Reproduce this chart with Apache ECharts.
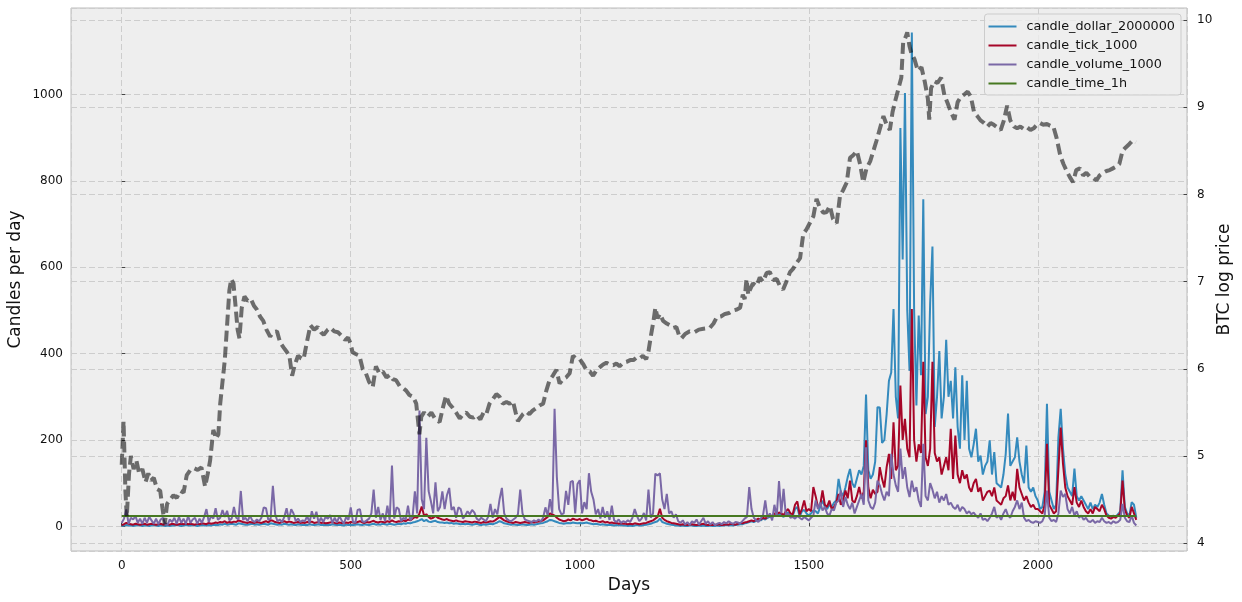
<!DOCTYPE html>
<html>
<head>
<meta charset="utf-8">
<title>Candles per day vs BTC log price</title>
<script src="https://cdn.jsdelivr.net/npm/echarts@6/dist/echarts.min.js"></script>
<style>
  html, body { margin: 0; padding: 0; background: #ffffff; }
  #chart { width: 1242px; height: 602px; }
</style>
</head>
<body>
<div id="chart"></div>
<script>
// candles per day, one value every 5 days (day 0, 5, 10, ... 2215)
const STEP = 5

const candleDollar = [
  1,2,3,2,2,1,2,3,2,1,2,2,1,2,3,2,1,2,2,1,
  2,1,2,2,3,2,1,2,3,2,2,3,2,1,2,3,2,2,3,2,
  3,4,3,5,4,6,4,5,6,5,4,7,6,5,4,4,5,6,4,5,
  4,5,6,5,4,7,6,5,4,5,4,6,5,4,5,4,3,5,4,3,
  4,3,5,4,3,4,5,3,4,3,4,3,5,4,3,4,3,2,4,3,
  4,3,4,5,4,3,5,4,3,5,6,4,5,4,6,5,4,6,5,4,
  5,6,5,7,6,8,7,9,10,12,14,17,12,15,11,10,12,13,10,9,
  9,8,9,7,8,6,7,6,5,6,5,6,5,4,5,6,4,3,5,4,
  5,6,5,7,9,12,10,7,6,5,4,5,4,3,4,5,4,3,4,5,
  4,5,6,7,8,10,12,15,14,12,10,8,7,6,7,8,7,9,8,7,
  8,7,8,9,7,6,5,6,5,4,5,4,3,4,3,2,3,2,3,2,
  2,1,2,1,2,3,2,2,3,4,5,6,8,10,12,18,10,8,6,5,
  4,3,2,2,1,2,1,1,2,2,1,1,2,1,2,1,1,2,1,1,
  2,1,2,2,3,2,3,2,3,4,5,5,7,8,10,12,10,13,15,14,
  18,16,20,22,21,25,24,28,26,22,30,32,25,24,40,45,22,35,38,30,
  25,30,37,35,30,45,60,45,40,50,45,55,60,110,80,70,90,114,133,100,
  90,110,130,120,140,305,130,110,120,150,276,275,193,200,260,337,356,503,300,250,
  922,618,1003,500,360,1143,500,280,488,350,757,260,300,517,648,230,300,406,250,300,
  432,300,337,250,368,230,180,350,200,337,180,160,190,226,150,164,120,140,150,199,
  120,172,100,95,90,120,168,261,140,150,160,206,150,120,100,187,90,80,90,70,
  60,40,45,80,284,80,60,40,50,206,272,180,120,90,80,70,134,70,60,70,
  60,50,40,55,40,50,45,55,75,50,30,25,22,25,22,28,35,130,45,30,
  25,56,50,20
]

const candleTick = [
  3,5,8,6,5,4,6,5,4,5,6,4,5,6,5,4,5,6,4,5,
  5,4,6,5,4,5,6,5,7,5,6,5,4,6,5,7,6,5,8,6,
  7,9,8,10,9,12,8,10,9,11,10,14,12,10,9,8,10,9,8,10,
  9,8,10,12,9,14,13,10,9,8,10,12,9,11,10,8,9,10,8,9,
  8,10,9,11,8,9,10,8,9,7,8,9,10,8,7,9,8,7,9,8,
  10,9,8,10,12,9,8,10,9,11,13,10,9,11,10,9,12,10,14,11,
  10,12,11,14,12,16,14,18,22,20,30,46,25,28,22,18,20,24,20,18,
  16,15,17,14,13,12,14,12,11,10,12,11,10,9,11,10,9,8,10,9,
  10,12,11,14,18,22,18,14,12,10,9,8,10,9,8,9,10,9,8,10,
  9,10,11,12,14,18,22,30,28,25,20,16,14,12,13,16,14,18,16,15,
  17,14,16,18,15,14,12,13,11,10,12,9,10,8,9,7,8,6,7,6,
  6,5,6,5,7,6,5,6,7,8,10,12,14,18,22,41,20,15,12,10,
  8,7,6,5,4,5,4,3,4,5,4,3,4,5,6,4,3,4,3,4,
  4,5,3,4,5,4,6,5,4,6,8,7,9,10,12,14,12,15,18,16,
  20,18,22,25,24,30,28,32,30,26,35,40,30,28,50,58,28,40,60,35,
  40,35,91,70,45,50,83,50,45,60,40,45,55,75,50,60,83,65,106,60,
  55,70,91,65,80,199,90,65,85,75,80,137,110,90,137,168,110,241,130,140,
  326,200,249,180,160,503,200,150,190,170,381,160,140,180,381,170,150,160,120,140,
  160,130,226,110,210,120,100,130,110,120,90,80,100,110,80,90,60,70,80,83,
  70,90,60,55,50,65,70,95,60,80,60,133,90,75,60,70,55,45,50,40,
  40,35,30,50,191,50,40,30,35,133,229,145,90,70,60,50,91,55,45,60,
  45,35,30,40,30,45,40,35,50,40,25,20,18,22,20,25,30,106,40,25,
  20,45,30,15
]

const candleVolume = [
  8,18,39,6,20,16,24,8,18,6,20,8,22,14,6,18,5,16,20,6,
  4,16,10,20,6,22,8,18,6,24,8,16,20,6,18,8,22,40,10,24,
  18,42,15,20,38,22,36,14,18,45,20,16,82,15,20,12,25,14,10,16,
  12,20,44,42,15,18,94,28,12,16,10,22,42,14,40,30,12,18,10,14,
  12,24,8,35,18,34,8,20,10,22,18,26,8,20,9,24,14,6,22,15,
  44,10,8,38,40,12,10,14,18,30,85,20,45,15,30,12,48,14,141,18,
  44,40,12,20,16,48,14,22,81,30,268,63,40,205,82,58,30,102,35,45,
  81,40,72,89,38,45,20,44,40,18,25,35,28,38,32,18,14,20,16,12,
  22,52,20,40,28,63,89,30,18,14,12,16,20,28,85,30,16,14,12,10,
  14,11,16,12,20,44,25,63,30,272,114,40,28,30,82,50,103,105,30,98,
  107,30,56,40,123,80,62,28,40,18,45,20,35,15,48,14,10,16,8,12,
  9,14,10,20,40,24,12,18,31,14,85,20,30,122,118,123,62,40,75,30,
  35,20,28,12,8,14,4,10,3,12,8,16,4,12,20,6,12,4,10,3,
  6,8,5,10,7,12,8,6,10,9,7,12,18,22,91,40,20,14,10,18,
  25,60,20,30,14,50,22,105,30,87,24,30,20,22,18,24,20,16,22,18,
  14,20,25,60,40,55,37,45,30,25,40,37,55,60,83,45,68,50,40,55,
  30,45,60,75,50,183,60,45,40,55,106,95,75,60,80,70,168,120,95,80,
  180,110,137,90,68,106,80,91,60,45,191,70,60,100,85,65,80,55,70,60,
  75,50,55,45,40,50,35,45,40,30,35,28,32,25,20,30,15,18,12,20,
  30,45,20,25,15,30,40,25,20,35,45,60,40,55,20,12,15,10,8,12,
  10,8,12,25,83,20,12,15,10,30,83,68,75,40,30,45,25,35,20,25,
  15,20,12,10,15,8,12,10,20,12,8,10,6,12,8,10,15,52,20,12,
  10,25,8,2
]

// 1h candles: flat 24 per day over the whole period
const timeDays = [0, 2215]
const candleTime = [24, 24]

// BTC log price, [day, value]
const btcLog = [
  [0,4.9],[4,5.4],[8,4.6],[11,4.3],[16,4.8],[20,5.0],[26,4.85],[32,4.95],[38,4.8],[45,4.85],
  [52,4.7],[58,4.8],[64,4.72],[70,4.75],[77,4.62],[84,4.6],[89,4.4],[94,4.22],[99,4.45],[106,4.5],
  [113,4.55],[120,4.52],[128,4.6],[135,4.58],[142,4.78],[150,4.84],[158,4.86],[166,4.84],[174,4.87],[182,4.65],
  [188,4.8],[193,4.95],[200,5.3],[206,5.2],[211,5.25],[215,5.6],[220,5.85],[225,6.1],[230,6.5],[235,6.9],
  [239,7.03],[244,6.98],[248,6.75],[253,6.45],[257,6.35],[262,6.7],[268,6.83],[275,6.78],[282,6.8],[289,6.72],
  [295,6.68],[302,6.6],[309,6.55],[316,6.45],[324,6.37],[331,6.42],[339,6.43],[346,6.3],[354,6.24],[361,6.19],
  [366,6.15],[372,5.92],[378,6.05],[385,6.15],[392,6.12],[397,6.11],[404,6.3],[412,6.5],[420,6.45],[428,6.48],
  [435,6.42],[441,6.39],[450,6.45],[456,6.47],[464,6.43],[472,6.42],[480,6.38],[488,6.33],[494,6.36],[499,6.3],
  [504,6.19],[511,6.17],[519,6.15],[526,6.0],[533,5.95],[540,5.85],[548,5.79],[555,6.03],[562,5.95],[570,5.97],
  [578,5.9],[585,5.93],[592,5.88],[599,5.87],[607,5.8],[614,5.78],[621,5.75],[628,5.7],[636,5.68],[643,5.6],
  [648,5.35],[650,5.25],[654,5.45],[660,5.5],[668,5.45],[676,5.5],[685,5.42],[694,5.39],[701,5.55],[708,5.69],
  [715,5.6],[723,5.55],[730,5.5],[738,5.43],[745,5.48],[752,5.5],[760,5.45],[768,5.44],[775,5.47],[783,5.42],
  [790,5.5],[796,5.48],[803,5.6],[810,5.65],[818,5.71],[825,5.68],[832,5.6],[840,5.62],[847,5.6],[854,5.63],
  [860,5.5],[865,5.4],[869,5.38],[876,5.48],[883,5.51],[890,5.48],[897,5.52],[905,5.55],[912,5.58],[920,5.6],
  [927,5.75],[934,5.87],[941,5.92],[949,5.99],[956,5.83],[963,5.88],[970,5.9],[978,5.95],[985,6.15],[992,6.12],
  [1000,6.11],[1008,6.05],[1015,5.98],[1022,5.97],[1029,5.92],[1036,5.98],[1044,6.02],[1051,6.05],[1058,6.07],[1065,6.05],
  [1073,6.04],[1080,6.06],[1087,6.03],[1095,6.07],[1102,6.08],[1110,6.1],[1117,6.1],[1124,6.13],[1131,6.12],[1138,6.15],
  [1145,6.11],[1150,6.2],[1156,6.4],[1161,6.55],[1165,6.7],[1170,6.58],[1175,6.63],[1182,6.55],[1190,6.52],[1197,6.5],
  [1204,6.47],[1211,6.48],[1217,6.38],[1222,6.35],[1230,6.4],[1240,6.43],[1250,6.42],[1260,6.45],[1270,6.46],[1284,6.47],
  [1292,6.52],[1299,6.59],[1308,6.6],[1317,6.63],[1326,6.64],[1335,6.67],[1343,6.68],[1350,6.7],[1356,6.85],[1360,6.8],
  [1364,7.03],[1368,6.85],[1371,6.9],[1378,6.98],[1386,6.95],[1393,7.05],[1400,7.0],[1408,7.1],[1415,7.11],[1422,7.02],
  [1430,7.03],[1437,6.95],[1444,6.91],[1451,7.0],[1459,7.11],[1466,7.15],[1474,7.22],[1481,7.27],[1488,7.55],[1495,7.6],
  [1502,7.67],[1510,7.75],[1517,7.95],[1524,7.85],[1532,7.79],[1539,7.8],[1546,7.87],[1553,7.72],[1561,7.67],[1568,7.98],
  [1575,8.05],[1583,8.14],[1590,8.42],[1597,8.45],[1605,8.5],[1612,8.35],[1619,8.14],[1626,8.3],[1634,8.38],[1641,8.5],
  [1648,8.62],[1655,8.75],[1663,8.9],[1670,8.8],[1677,8.74],[1683,8.95],[1690,9.1],[1696,9.22],[1702,9.34],[1706,9.74],
  [1711,9.8],[1715,9.86],[1720,9.7],[1724,9.62],[1731,9.55],[1738,9.42],[1746,9.46],[1753,9.3],[1760,9.1],[1763,8.86],
  [1767,9.22],[1774,9.3],[1781,9.28],[1789,9.34],[1796,9.14],[1803,9.05],[1810,8.95],[1818,8.86],[1825,9.06],[1832,9.12],
  [1840,9.15],[1847,9.18],[1854,9.12],[1861,8.94],[1868,8.9],[1875,8.85],[1883,8.82],[1890,8.78],[1897,8.82],[1904,8.8],
  [1912,8.77],[1919,8.74],[1926,8.85],[1933,9.02],[1940,8.85],[1948,8.78],[1955,8.76],[1962,8.78],[1970,8.75],[1977,8.77],
  [1984,8.74],[1991,8.76],[1998,8.8],[2005,8.82],[2012,8.8],[2020,8.81],[2027,8.79],[2034,8.78],[2041,8.65],[2049,8.45],
  [2056,8.35],[2063,8.27],[2070,8.2],[2077,8.14],[2084,8.28],[2092,8.3],[2099,8.22],[2106,8.25],[2114,8.2],[2121,8.19],
  [2128,8.16],[2135,8.22],[2143,8.25],[2150,8.27],[2157,8.28],[2164,8.3],[2171,8.32],[2178,8.35],[2185,8.5],[2192,8.54],
  [2200,8.58],[2207,8.62],[2214,8.6]
]

const seriesNames = ['candle_dollar_2000000', 'candle_tick_1000', 'candle_volume_1000', 'candle_time_1h']
const colors = ['#348ABD', '#A60628', '#7A68A6', '#467821']

const FONT = 'DejaVu Sans'

function withDays(values) {
  return values.map((v, i) => [i * STEP, v])
}

const chart = echarts.init(document.getElementById('chart'))

const gridLine = {
  show: true,
  lineStyle: { color: '#cdcdcd', width: 1, type: [6, 3] }
}
const tick = { show: true, inside: true, length: 3.5, lineStyle: { color: '#444', width: 1 } }
const tickLabel = {
  fontFamily: FONT, fontSize: 12, color: '#111',
  showMinLabel: false, showMaxLabel: false,
  formatter: v => String(v)
}
const nameStyle = { fontFamily: FONT, fontSize: 17, color: '#111' }

function candleLine(idx, data) {
  return {
    name: seriesNames[idx],
    type: 'line',
    data: data,
    showSymbol: false,
    symbol: 'none',
    silent: true,
    lineStyle: { color: colors[idx], width: 2 },
    itemStyle: { color: colors[idx] }
  }
}

chart.setOption({
  animation: false,
  backgroundColor: '#ffffff',
  grid: {
    left: 71, right: 55, top: 8, bottom: 51,
    containLabel: false,
    outerBoundsMode: 'none',
    show: true, backgroundColor: '#eeeeee', borderColor: '#bcbcbc', borderWidth: 1
  },
  legend: {
    data: seriesNames,
    orient: 'vertical',
    right: 61,
    top: 14,
    icon: 'rect',
    itemWidth: 28,
    itemHeight: 2,
    itemGap: 4,
    padding: [5, 6, 4, 4],
    backgroundColor: 'rgba(238,238,238,0.8)',
    borderColor: '#cccccc',
    borderWidth: 1,
    borderRadius: 3,
    textStyle: { fontFamily: FONT, fontSize: 12.8, color: '#111', lineHeight: 15, padding: [0, 0, 0, 5] }
  },
  xAxis: {
    type: 'value',
    min: -110.75,
    max: 2325.75,
    splitNumber: 5,
    name: 'Days',
    nameLocation: 'middle',
    nameGap: 26,
    nameMoveOverlap: false,
    nameTextStyle: nameStyle,
    axisLine: { show: false },
    axisTick: tick,
    axisLabel: Object.assign({ margin: 9 }, tickLabel),
    splitLine: gridLine
  },
  yAxis: [
    {
      type: 'value',
      position: 'left',
      min: -57,
      max: 1200,
      splitNumber: 6,
      name: 'Candles per day',
      nameLocation: 'middle',
      nameRotate: 90,
      nameGap: 47,
      nameMoveOverlap: false,
      nameTextStyle: nameStyle,
      axisLine: { show: false },
      axisTick: tick,
      axisLabel: Object.assign({ margin: 8 }, tickLabel),
      splitLine: gridLine
    },
    {
      type: 'value',
      position: 'right',
      min: 3.91,
      max: 10.14,
      splitNumber: 6,
      name: 'BTC log price',
      nameLocation: 'middle',
      nameRotate: 90,
      nameGap: 29,
      nameMoveOverlap: false,
      nameTextStyle: nameStyle,
      axisLine: { show: false },
      axisTick: tick,
      axisLabel: Object.assign({ margin: 10 }, tickLabel),
      splitLine: gridLine
    }
  ],
  series: [
    candleLine(0, withDays(candleDollar)),
    candleLine(1, withDays(candleTick)),
    candleLine(2, withDays(candleVolume)),
    candleLine(3, timeDays.map((d, i) => [d, candleTime[i]])),
    {
      name: 'btc_log_price',
      type: 'line',
      yAxisIndex: 1,
      data: btcLog,
      showSymbol: false,
      symbol: 'none',
      silent: true,
      lineStyle: { color: 'rgba(0,0,0,0.55)', width: 4, type: [11, 5] },
      itemStyle: { color: 'rgba(0,0,0,0.55)' }
    }
  ]
})
</script>
</body>
</html>
